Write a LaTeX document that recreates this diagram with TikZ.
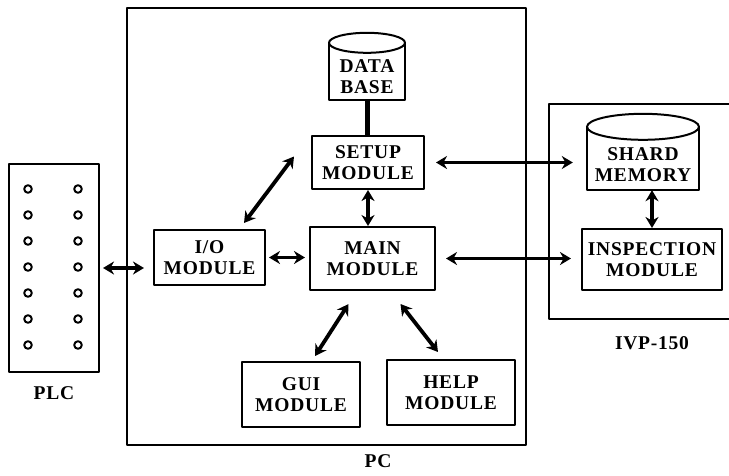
\documentclass[tikz,border=0pt]{standalone}
\usepackage{fontspec}
\setmainfont{Liberation Serif}[LetterSpace=4]
\usetikzlibrary{arrows.meta, positioning, calc}

\begin{document}
\begin{tikzpicture}[x=1pt,y=-1pt,line cap=round,line join=round,
  every node/.style={font=\fontsize{19.5}{21}\selectfont\bfseries},
  frame/.style={draw,line width=2pt,inner sep=0pt},
  module/.style={frame,align=center},
  store/.style={inner sep=0pt,align=center},
  link/.style={line width=3.8pt,{Stealth[length=11pt,width=13pt]}-{Stealth[length=11pt,width=13pt]}},
  pin/.style={line width=2pt}]
  \useasboundingbox (0,0) rectangle (729,475);
  % ---- PLC ---------------------------------------------------------------
  \node[frame,minimum width=90pt,minimum height=208pt] (plc) at (54,268) {};
  \foreach \r in {0,...,6} {
    \draw[pin] (28,{189+26*\r}) circle (3.8pt);
    \draw[pin] (78,{189+26*\r}) circle (3.8pt);
  }
  \node (plclabel) at (54,393) {PLC};
  % ---- PC ----------------------------------------------------------------
  \node[frame,minimum width=399pt,minimum height=437pt] (pc) at (326.5,226.5) {};
  \node (pclabel) at (378,461) {PC};
  \node[store,minimum width=76pt,minimum height=45pt] (db) at (367,77) {DATA\\BASE};
  \draw[line width=2pt] ([yshift=11.5pt]db.north west) -- (db.south west)
    -- (db.south east) -- ([yshift=11.5pt]db.north east);
  \draw[line width=2pt] ([yshift=11.5pt]db.north) ellipse [x radius=38pt,y radius=10pt];
  \node[module,minimum width=112pt,minimum height=53pt] (setup) at (368,162.5) {SETUP\\MODULE};
  \node[module,minimum width=111pt,minimum height=55pt] (io) at (209.5,257.5) {I/O\\MODULE};
  \node[module,minimum width=125pt,minimum height=63pt] (main) at (372.5,258.5) {MAIN\\MODULE};
  \node[module,minimum width=118pt,minimum height=65pt] (gui) at (301,394.5) {GUI\\MODULE};
  \node[module,minimum width=128pt,minimum height=65pt] (help) at (451,392.5) {HELP\\MODULE};
  % ---- IVP-150 -----------------------------------------------------------
  \node[frame,minimum width=200pt,minimum height=215pt,anchor=north west] (ivp) at (548,103) {};
  \node (ivplabel) at (652,343) {IVP-150};
  \node[store,minimum width=112pt,minimum height=50pt] (shard) at (643,165) {SHARD\\MEMORY};
  \draw[line width=2pt] ([yshift=13pt]shard.north west) -- (shard.south west)
    -- (shard.south east) -- ([yshift=13pt]shard.north east);
  \draw[line width=2pt] ([yshift=13pt]shard.north) ellipse [x radius=56pt,y radius=13pt];
  \node[module,minimum width=140pt,minimum height=61pt] (insp) at (652,259.5) {INSPECTION\\MODULE};
  % ---- links -------------------------------------------------------------
  \draw[line width=5pt,line cap=butt] (db.south) -- (db.south |- setup.north);
  \draw[link,shorten <=3pt,shorten >=9pt] (plc.east) -- (plc.east -| io.west);
  \draw[link,shorten <=3pt,shorten >=4pt] (io.east) -- (io.east -| main.west);
  \draw[link] ([xshift=-22pt,yshift=6pt]io.north east) -- ([xshift=-17pt,yshift=6pt]setup.west);
  \draw[link] (setup.south) -- (setup.south |- main.north);
  \draw[link] ([xshift=-24pt,yshift=-13pt]main.south) -- ([xshift=14pt,yshift=5pt]gui.north);
  \draw[link] ([xshift=28pt,yshift=-13pt]main.south) -- ([xshift=-13pt,yshift=7pt]help.north);
  \draw[link,shorten <=11pt,shorten >=14pt] (setup.east) -- (setup.east -| shard.west);
  \draw[link,shorten <=10pt,shorten >=10pt] (main.east) -- (main.east -| insp.west);
  \draw[link] (insp.north |- shard.south) -- (insp.north);
\end{tikzpicture}
\end{document}
